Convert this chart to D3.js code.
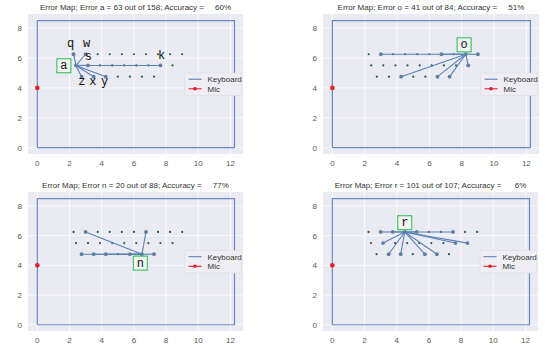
<!DOCTYPE html>
<html><head><meta charset="utf-8">
<script src="https://cdnjs.cloudflare.com/ajax/libs/d3/7.8.5/d3.min.js"></script>
<style>body{margin:0;background:#fff}svg{display:block}</style>
</head><body>
<script>
// ---- data ----
const row1Keys = ["q","w","e","r","t","y","u","i","o","p"];
const row1X = [2.25,3.0,3.75,4.5,5.25,6.0,6.75,7.5,8.25,9.0];
const row1Y = 6.25;
const row2Keys = ["a","s","d","f","g","h","j","k","l"];
const row2X = [2.4,3.15,3.9,4.65,5.4,6.15,6.9,7.65,8.4];
const row2Y = 5.5;
const row3Keys = ["z","x","c","v","b","n","m"];
const row3X = [2.75,3.5,4.25,5.0,5.75,6.5,7.25];
const row3Y = 4.75;
const micPoint = [0, 4];
const boardRect = [[0,0],[12.25,0],[12.25,8.5],[0,8.5],[0,0]];

const panelLetters = ["a","o","n","r"];
const panelErrors = [63, 41, 20, 101];
const panelTotals = [158, 84, 88, 107];
const panelAccuracy = ["60%","51%","77%","6%"];
const panelTargets = [
  ["q","w","s","k","z","x","c"],
  ["w","u","p","l","c","n","m"],
  ["w","u","z","x","c","b","m"],
  ["w","e","t","i","s","k","l","x","c","b","n"]
];
const panelBoxPos = [[1.65,5.48],[8.15,6.88],[6.4,4.15],[4.5,6.87]];
// extra confusion labels (panel 1 only)
const annText = ["q","w","s","k","z","x","y"];
const annX = [2.07,3.06,3.17,7.72,2.77,3.45,4.18];
const annY = [6.73,6.75,5.88,5.93,4.21,4.21,4.21];
const xTicks = [0,2,4,6,8,10,12];
const yTicks = [0,2,4,6,8];
const legendLabels = ["Keyboard","Mic"];

// ---- helpers ----
const keyPos = {};
row1Keys.forEach((k,i)=>keyPos[k]=[row1X[i],row1Y]);
row2Keys.forEach((k,i)=>keyPos[k]=[row2X[i],row2Y]);
row3Keys.forEach((k,i)=>keyPos[k]=[row3X[i],row3Y]);
const allKeys = Object.keys(keyPos);

const W=554,H=348;
const svg = d3.select("body").append("svg").attr("width",W).attr("height",H)
  .style("font-family","'Liberation Sans',Arial,sans-serif");

const layout = [
  {x:28,y:14,w:215,h:140},
  {x:323,y:14,w:216,h:140},
  {x:28,y:192,w:215,h:139},
  {x:323,y:192,w:215,h:139}
];
const lineCol = "#5a80b8", markCol="#5f7fa0", dotCol="#2a5a52";

panelLetters.forEach((letter,pi)=>{
  const L = layout[pi];
  const g = svg.append("g");
  const xs = d3.scaleLinear().domain([-0.58,12.78]).range([L.x,L.x+L.w]);
  const ys = d3.scaleLinear().domain([-0.42,8.94]).range([L.y+L.h,L.y]);
  g.append("rect").attr("x",L.x).attr("y",L.y).attr("width",L.w).attr("height",L.h).attr("fill","#eaeaf2");
  // grid
  g.selectAll(".gx").data(xTicks).join("line").attr("x1",d=>xs(d)).attr("x2",d=>xs(d))
    .attr("y1",L.y).attr("y2",L.y+L.h).attr("stroke","#fff").attr("stroke-width",0.8);
  g.selectAll(".gy").data(yTicks).join("line").attr("y1",d=>ys(d)).attr("y2",d=>ys(d))
    .attr("x1",L.x).attr("x2",L.x+L.w).attr("stroke","#fff").attr("stroke-width",0.8);
  // tick labels
  g.selectAll(".tx").data(xTicks).join("text").attr("x",d=>xs(d)).attr("y",L.y+L.h+11.5)
    .attr("text-anchor","middle").attr("font-size",8).attr("fill","#555").text(d=>d);
  g.selectAll(".ty").data(yTicks).join("text").attr("x",L.x-6).attr("y",d=>ys(d)+3)
    .attr("text-anchor","end").attr("font-size",8).attr("fill","#555").text(d=>d);
  // title
  const pad = panelAccuracy[pi].length===2 ? "     " : "    ";
  g.append("text").attr("x",L.x+L.w/2).attr("y",L.y-4).attr("text-anchor","middle")
    .attr("font-size",8).attr("fill","#333").style("white-space","pre")
    .text(`Error Map; Error ${letter} = ${panelErrors[pi]} out of ${panelTotals[pi]}; Accuracy = ${pad}${panelAccuracy[pi]}`);
  // board rectangle
  const line = d3.line().x(d=>xs(d[0])).y(d=>ys(d[1]));
  g.append("path").attr("d",line(boardRect)).attr("fill","none").attr("stroke","#6a8ac4").attr("stroke-width",1.2);
  // keyboard dots
  g.selectAll(".kd").data(allKeys).join("circle").attr("cx",k=>xs(keyPos[k][0])).attr("cy",k=>ys(keyPos[k][1]))
    .attr("r",1.1).attr("fill",dotCol);
  // error lines
  const src = keyPos[letter];
  panelTargets[pi].forEach(t=>{
    const p = keyPos[t];
    g.append("path").attr("d",line([src,p])).attr("stroke",lineCol).attr("stroke-width",1.1).attr("fill","none");
  });
  panelTargets[pi].forEach(t=>{
    const p = keyPos[t];
    g.append("circle").attr("cx",xs(p[0])).attr("cy",ys(p[1])).attr("r",1.9).attr("fill",markCol);
  });
  g.append("circle").attr("cx",xs(src[0])).attr("cy",ys(src[1])).attr("r",1.9).attr("fill",markCol);
  // mic
  g.append("circle").attr("cx",xs(micPoint[0])).attr("cy",ys(micPoint[1])).attr("r",2.3).attr("fill","#e8222a");
  // label box
  const bp = panelBoxPos[pi];
  g.append("rect").attr("x",xs(bp[0])-7).attr("y",ys(bp[1])-7).attr("width",14).attr("height",14)
    .attr("fill","#f2f5f2").attr("stroke","#3bbf5c").attr("stroke-width",1.1);
  g.append("text").attr("x",xs(bp[0])).attr("y",ys(bp[1])+3.5).attr("text-anchor","middle")
    .attr("font-family","'Liberation Mono','DejaVu Sans Mono',monospace").attr("font-size",12).attr("fill","#111").text(letter);
  if(pi===0){
    annText.forEach((t,i)=>{
      g.append("text").attr("x",xs(annX[i])).attr("y",ys(annY[i])).attr("text-anchor","middle")
        .attr("font-family","'Liberation Mono','DejaVu Sans Mono',monospace").attr("font-size",12).attr("fill","#111").text(t);
    });
  }
  // legend
  const lx = L.x+L.w-58, ly = L.y+L.h/2-11;
  g.append("rect").attr("x",lx).attr("y",ly).attr("width",56.5).attr("height",22.5).attr("rx",2)
    .attr("fill","#eeeef4").attr("stroke","#dcdce4").attr("stroke-width",0.6);
  g.append("line").attr("x1",lx+3.5).attr("x2",lx+16.5).attr("y1",ly+6.2).attr("y2",ly+6.2).attr("stroke",lineCol).attr("stroke-width",1.1);
  g.append("line").attr("x1",lx+3.5).attr("x2",lx+16.5).attr("y1",ly+15.8).attr("y2",ly+15.8).attr("stroke","#e8222a").attr("stroke-width",1.1);
  g.append("circle").attr("cx",lx+10).attr("cy",ly+15.8).attr("r",1.8).attr("fill","#e8222a");
  legendLabels.forEach((s,i)=>{
    g.append("text").attr("x",lx+22.5).attr("y",ly+9+i*9.6).attr("font-size",8).attr("fill","#333").text(s);
  });
});
</script>
</body></html>
